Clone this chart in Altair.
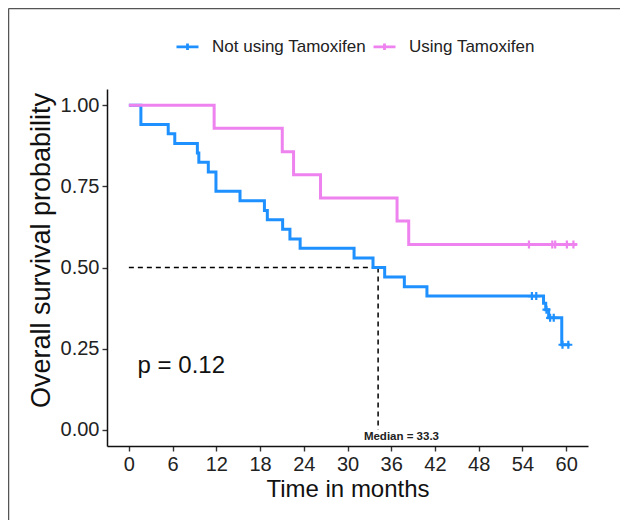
import altair as alt
import pandas as pd

groups = ["Not using Tamoxifen", "Using Tamoxifen"]
colors = ["#1E90FF", "#EE82EE"]

# Kaplan-Meier step points (time in months, survival probability)
blue_t = [0, 1.65, 5.4, 6.3, 9.4, 9.6, 10.9, 11.95, 15.25, 18.6, 19.0, 21.1, 22.1, 23.5,
          30.9, 33.5, 35.1, 37.8, 40.9, 56.9, 57.2, 57.6, 59.4, 60.5]
blue_s = [1.0, 0.941, 0.912, 0.882, 0.853, 0.824, 0.794, 0.735, 0.706, 0.676, 0.647, 0.618,
          0.588, 0.559, 0.529, 0.500, 0.471, 0.441, 0.412, 0.390, 0.370, 0.345, 0.262, 0.262]
blue_cens_t = [55.3, 55.9, 57.3, 57.8, 58.3, 59.5, 60.3]
blue_cens_s = [0.412, 0.412, 0.370, 0.345, 0.345, 0.262, 0.262]

pink_t = [0, 11.7, 21.05, 22.6, 26.3, 36.8, 38.4, 61.5]
pink_s = [1.0, 0.929, 0.857, 0.786, 0.714, 0.643, 0.571, 0.571]
pink_cens_t = [54.9, 58.1, 58.5, 60.1, 61.0]
pink_cens_s = [0.571, 0.571, 0.571, 0.571, 0.571]

median_time = 34.2
median_label = "Median = 33.3"
p_label = "p = 0.12"

x_ticks = [0, 6, 12, 18, 24, 30, 36, 42, 48, 54, 60]
y_ticks = [0.0, 0.25, 0.5, 0.75, 1.0]

FONT = "Liberation Sans"

lines = pd.DataFrame({
    "t": blue_t + pink_t,
    "s": blue_s + pink_s,
    "g": [groups[0]] * len(blue_t) + [groups[1]] * len(pink_t),
})
cens = pd.DataFrame({
    "t": blue_cens_t + pink_cens_t,
    "s": blue_cens_s + pink_cens_s,
    "g": [groups[0]] * len(blue_cens_t) + [groups[1]] * len(pink_cens_t),
})
med = pd.DataFrame({"t0": [0.0], "t1": [median_time], "s": [0.5], "z": [0.0]})
ptxt = pd.DataFrame({"t": [1.2], "s": [0.197], "label": [p_label]})
mtxt = pd.DataFrame({"t": [37.4], "s": [-0.022], "label": [median_label]})

xscale = alt.Scale(domain=[-3, 63], nice=False, zero=False)
yscale = alt.Scale(domain=[-0.05, 1.05], nice=False, zero=False)
cscale = alt.Scale(domain=groups, range=colors)

xaxis = alt.Axis(values=x_ticks, title="Time in months", format="d", titleFontSize=24)
yaxis = alt.Axis(values=y_ticks, title="Overall survival probability", format=".2f",
                 titleFontSize=27, titleY=161)

cross = "M-1,0L1,0M0,-1L0,1"

hline = alt.Chart(med).mark_rule(strokeDash=[5, 4], color="black", strokeWidth=1.5).encode(
    x=alt.X("t0:Q", scale=xscale, axis=xaxis),
    x2="t1:Q",
    y=alt.Y("s:Q", scale=yscale, axis=yaxis),
)
vline = alt.Chart(med).mark_rule(strokeDash=[5, 4], color="black", strokeWidth=1.5).encode(
    x=alt.X("t1:Q", scale=xscale),
    y=alt.Y("s:Q", scale=yscale),
    y2="z:Q",
)

line = alt.Chart(lines).mark_line(interpolate="step-after", strokeWidth=3).encode(
    x=alt.X("t:Q", scale=xscale),
    y=alt.Y("s:Q", scale=yscale),
    color=alt.Color("g:N", scale=cscale, legend=alt.Legend(
        title=None, orient="none", direction="horizontal", legendX=68, legendY=-55,
        symbolType="M-1,0L1,0M0,-0.3L0,0.3", symbolSize=484, symbolStrokeWidth=2.8,
        labelFont=FONT, labelFontSize=17, labelColor="#222", labelOffset=12,
        columnPadding=0, padding=0)),
)

pts = alt.Chart(cens).mark_point(shape=cross, filled=False, size=64, strokeWidth=2.2, opacity=1).encode(
    x=alt.X("t:Q", scale=xscale),
    y=alt.Y("s:Q", scale=yscale),
    color=alt.Color("g:N", scale=cscale, legend=None),
)

pt = alt.Chart(ptxt).mark_text(align="left", baseline="middle", font=FONT, fontSize=24, color="#111").encode(
    x=alt.X("t:Q", scale=xscale), y=alt.Y("s:Q", scale=yscale), text="label:N")
mt = alt.Chart(mtxt).mark_text(align="center", baseline="middle", font=FONT, fontSize=11.5,
                               fontWeight="bold", color="#222").encode(
    x=alt.X("t:Q", scale=xscale), y=alt.Y("s:Q", scale=yscale), text="label:N")

frame_df = pd.DataFrame({"k": [0]})
frame_top = alt.Chart(frame_df).mark_rule(color="#555", strokeWidth=1.5).encode(
    x=alt.value(-98.5), x2=alt.value(513), y=alt.value(-80.5))
frame_left = alt.Chart(frame_df).mark_rule(color="#555", strokeWidth=1.5).encode(
    x=alt.value(-98.5), y=alt.value(-80.5), y2=alt.value(431))

chart = alt.layer(hline, vline, line, pts, pt, mt, frame_top, frame_left).properties(
    width=481, height=357,
    padding={"left": 99, "top": 81, "right": 32, "bottom": 74},
    autosize=alt.AutoSizeParams(type="none"),
    background="white",
).configure_view(stroke=None).configure_axis(
    grid=False, domainColor="#111", domainWidth=1.5, tickColor="#333", tickWidth=1.4, tickSize=5,
    labelFont=FONT, labelFontSize=20, labelColor="#222", labelPadding=3,
    titleFont=FONT, titleFontWeight="normal", titleColor="#111",
).configure_axisX(titlePadding=3).configure_axisY(titlePadding=5)

chart.save("out.html", embed_options={"renderer": "svg", "actions": False})
